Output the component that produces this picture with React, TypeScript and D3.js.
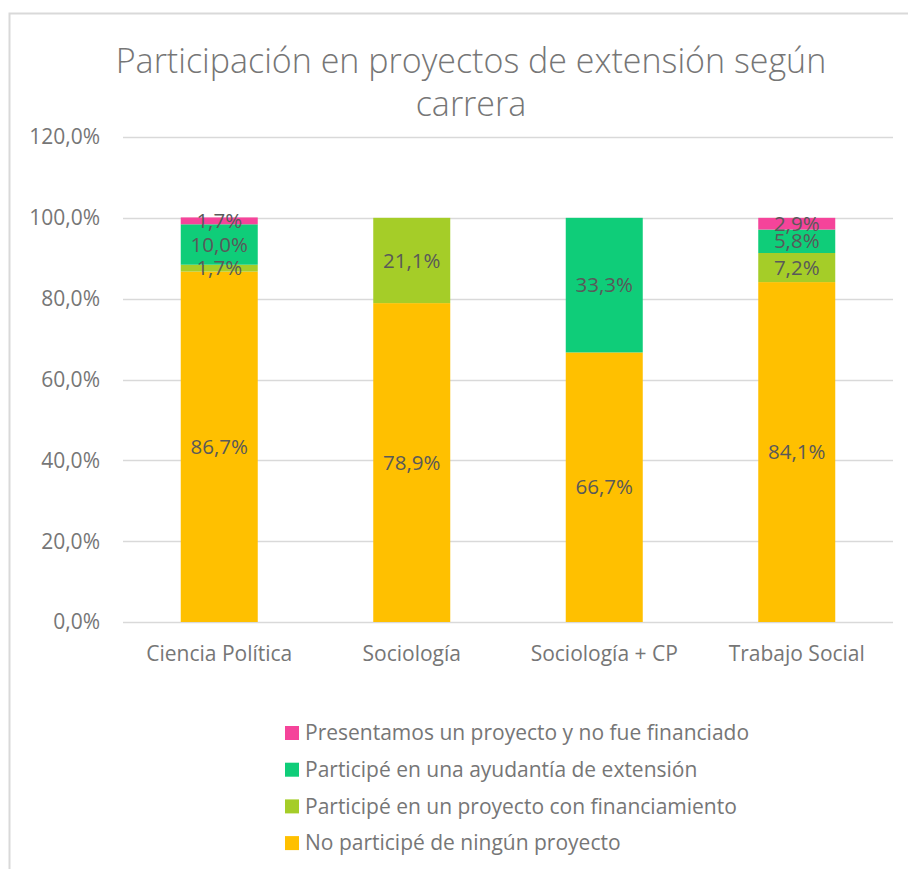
import { useEffect, useRef } from "react";
import * as d3 from "d3";

const categories = ["Ciencia Política", "Sociología", "Sociología + CP", "Trabajo Social"];
const seriesNames = [
  "No participé de ningún proyecto",
  "Participé en un proyecto con financiamiento",
  "Participé en una ayudantía de extensión",
  "Presentamos un proyecto y no fue financiado",
];
const seriesColors = ["#ffc000", "#a5cd28", "#0fcd79", "#f5449a"];
const noParticipe = [86.7, 78.9, 66.7, 84.1];
const conFinanciamiento = [1.7, 21.1, 0, 7.2];
const ayudantia = [10.0, 0, 33.3, 5.8];
const noFinanciado = [1.7, 0, 0, 2.9];
const yTicks = [0, 20, 40, 60, 80, 100, 120];

const W = 908;
const H = 869;
const FONT = "'Open Sans', Lato, sans-serif";

export default function App() {
  const svgRef = useRef<SVGSVGElement>(null);

  useEffect(() => {
    if (!svgRef.current) return;
    const svg = d3.select(svgRef.current);
    svg.selectAll("*").remove();

    // chart border (left + top only visible)
    svg.append("path")
      .attr("d", `M9.5,${H} V13.5 H${W}`)
      .attr("fill", "none")
      .attr("stroke", "#d9d9d9")
      .attr("stroke-width", 2);

    // title
    const title = svg.append("text")
      .attr("text-anchor", "middle")
      .attr("font-family", FONT)
      .attr("font-weight", 300)
      .attr("font-size", 34)
      .attr("fill", "#767676");
    title.append("tspan").attr("x", 471).attr("y", 73).text("Participación en proyectos de extensión según");
    title.append("tspan").attr("x", 471).attr("y", 116).text("carrera");

    const x = d3.scaleBand<string>().domain(categories).range([123, 893]).paddingInner(0.6).paddingOuter(0.3);
    const y = d3.scaleLinear().domain([0, 120]).range([622, 137]);

    // gridlines
    svg.append("g")
      .selectAll("line")
      .data(yTicks)
      .join("line")
      .attr("x1", 123)
      .attr("x2", 893)
      .attr("y1", (d) => Math.round(y(d)) + 0.5)
      .attr("y2", (d) => Math.round(y(d)) + 0.5)
      .attr("stroke", "#d9d9d9")
      .attr("stroke-width", 1.5);

    // y axis labels
    svg.append("g")
      .selectAll("text")
      .data(yTicks)
      .join("text")
      .attr("x", 100)
      .attr("y", (d) => y(d))
      .attr("dy", "0.35em")
      .attr("text-anchor", "end")
      .attr("font-family", FONT)
      .attr("font-size", 21)
      .attr("fill", "#767676")
      .text((d) => d3.format(".1f")(d).replace(".", ",") + "%");

    // stacked data
    const values = [noParticipe, conFinanciamiento, ayudantia, noFinanciado];
    const rows = categories.map((c, i) => {
      const r: Record<string, number | string> = { cat: c };
      seriesNames.forEach((s, k) => (r[s] = values[k][i]));
      return r;
    });
    const stacked = d3.stack<Record<string, number | string>>().keys(seriesNames)(rows as any);

    const layers = svg.append("g")
      .selectAll("g")
      .data(stacked)
      .join("g")
      .attr("fill", (_, i) => seriesColors[i]);

    layers.selectAll("rect")
      .data((d) => d.map((v) => ({ v, cat: v.data.cat as string })))
      .join("rect")
      .attr("x", (d) => x(d.cat)!)
      .attr("width", x.bandwidth())
      .attr("y", (d) => y(d.v[1]))
      .attr("height", (d) => y(d.v[0]) - y(d.v[1]));

    // data labels
    const labels = svg.append("g");
    stacked.forEach((layer) => {
      layer.forEach((v) => {
        const val = v[1] - v[0];
        if (val <= 0) return;
        labels.append("text")
          .attr("x", x(v.data.cat as string)! + x.bandwidth() / 2)
          .attr("y", y((v[0] + v[1]) / 2))
          .attr("dy", "0.35em")
          .attr("text-anchor", "middle")
          .attr("font-family", FONT)
          .attr("font-size", 20.5)
          .attr("fill", "#595959")
          .text(d3.format(".1f")(val).replace(".", ",") + "%");
      });
    });

    // category labels
    svg.append("g")
      .selectAll("text")
      .data(categories)
      .join("text")
      .attr("x", (d) => x(d)! + x.bandwidth() / 2)
      .attr("y", 661)
      .attr("text-anchor", "middle")
      .attr("font-family", FONT)
      .attr("font-size", 21)
      .attr("fill", "#767676")
      .text((d) => d);

    // legend (reverse order)
    const legendItems = seriesNames.map((s, i) => ({ s, c: seriesColors[i] })).reverse();
    const lg = svg.append("g")
      .selectAll("g")
      .data(legendItems)
      .join("g")
      .attr("transform", (_, i) => `translate(285,${733 + i * 36.7})`);
    lg.append("rect")
      .attr("x", 0)
      .attr("y", -7)
      .attr("width", 14)
      .attr("height", 14)
      .attr("fill", (d) => d.c);
    lg.append("text")
      .attr("x", 20)
      .attr("y", 0)
      .attr("dy", "0.35em")
      .attr("font-family", FONT)
      .attr("font-size", 21)
      .attr("fill", "#767676")
      .text((d) => d.s);
  }, []);

  return (
    <>
      <style>{"body{margin:0}"}</style>
      <svg ref={svgRef} width={W} height={H} style={{ display: "block", background: "#fff" }} />
    </>
  );
}
